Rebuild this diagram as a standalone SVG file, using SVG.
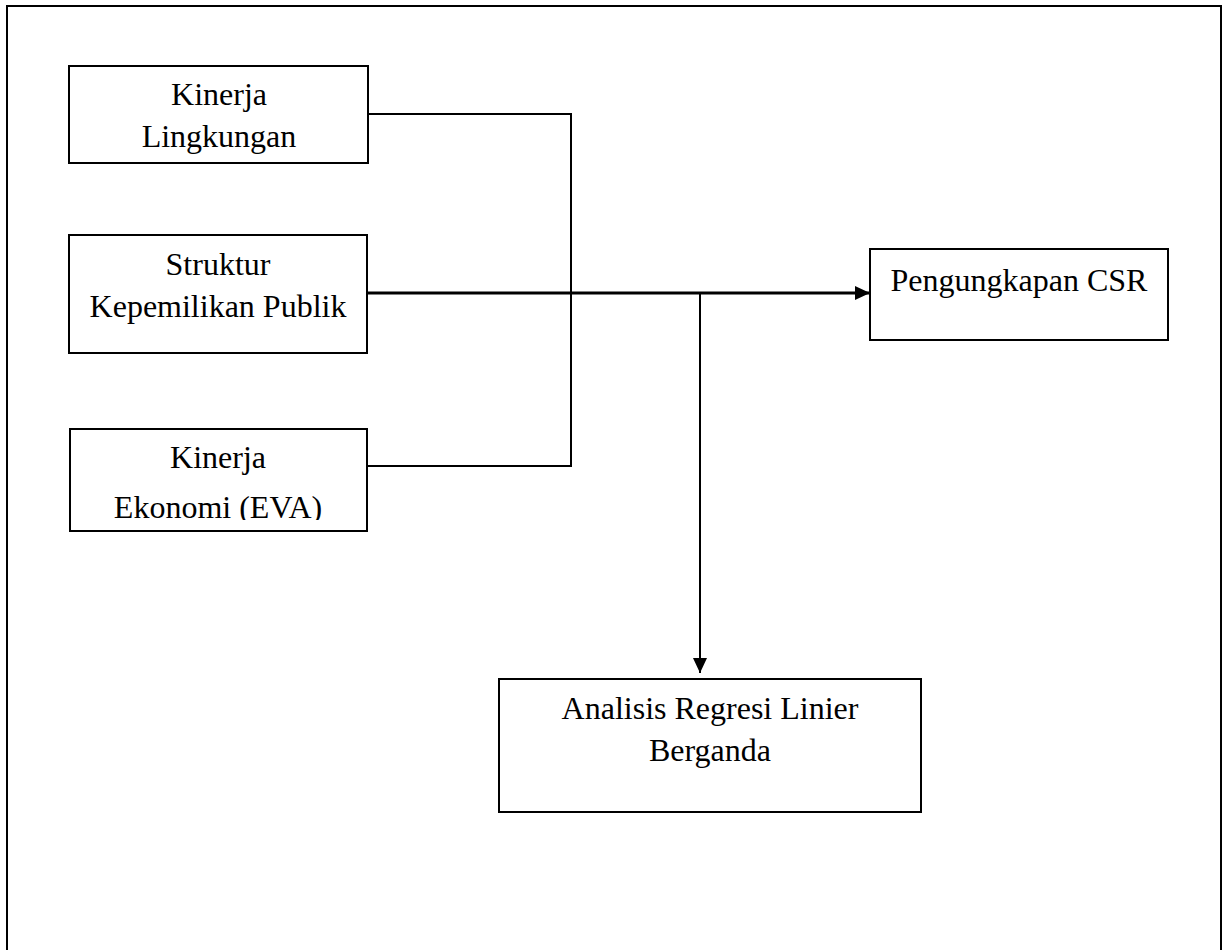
<svg xmlns="http://www.w3.org/2000/svg" width="1227" height="950" viewBox="0 0 1227 950">
  <style>
    .box { fill: #fff; stroke: #000; stroke-width: 2; }
    .lbl { font-family: "Liberation Serif", "Times New Roman", serif; font-size: 32px; fill: #000; text-anchor: middle; }
    .conn { fill: none; stroke: #000; stroke-width: 2; }
    .main { stroke-width: 3; }
  </style>
  <defs>
    <marker id="arrow" viewBox="0 0 15 14" refX="15" refY="7" markerWidth="15" markerHeight="14" markerUnits="userSpaceOnUse" orient="auto">
      <path d="M0,0 L15,7 L0,14 Z" fill="#000"/>
    </marker>
    <clipPath id="clip3">
      <rect x="69" y="428" width="300" height="92"/>
    </clipPath>
  </defs>
  <rect width="1227" height="950" fill="#fff"/>
  <rect id="frame" x="7" y="6" width="1214" height="1000" fill="none" stroke="#000" stroke-width="2"/>

  <g id="connectors">
    <polyline class="conn" points="368,114 571,114 571,466 368,466"/>
    <line class="conn main" x1="368" y1="293" x2="870" y2="293" marker-end="url(#arrow)"/>
    <line class="conn" x1="700" y1="294" x2="700" y2="673" marker-end="url(#arrow)"/>
  </g>

  <g id="node-kinerja-lingkungan">
    <rect class="box" x="69" y="66" width="299" height="97"/>
    <text class="lbl" x="219" y="105">Kinerja</text>
    <text class="lbl" x="219" y="147">Lingkungan</text>
  </g>

  <g id="node-struktur">
    <rect class="box" x="69" y="235" width="298" height="118"/>
    <text class="lbl" x="218" y="275">Struktur</text>
    <text class="lbl" x="218" y="317">Kepemilikan Publik</text>
  </g>

  <g id="node-kinerja-ekonomi">
    <rect class="box" x="70" y="429" width="297" height="102"/>
    <g clip-path="url(#clip3)">
      <text class="lbl" x="218" y="468">Kinerja</text>
      <text class="lbl" x="218" y="518">Ekonomi (EVA)</text>
    </g>
  </g>

  <g id="node-csr">
    <rect class="box" x="870" y="249" width="298" height="91"/>
    <text class="lbl" x="1019" y="291">Pengungkapan CSR</text>
  </g>

  <g id="node-regresi">
    <rect class="box" x="499" y="679" width="422" height="133"/>
    <text class="lbl" x="710" y="719">Analisis Regresi Linier</text>
    <text class="lbl" x="710" y="761">Berganda</text>
  </g>
</svg>
